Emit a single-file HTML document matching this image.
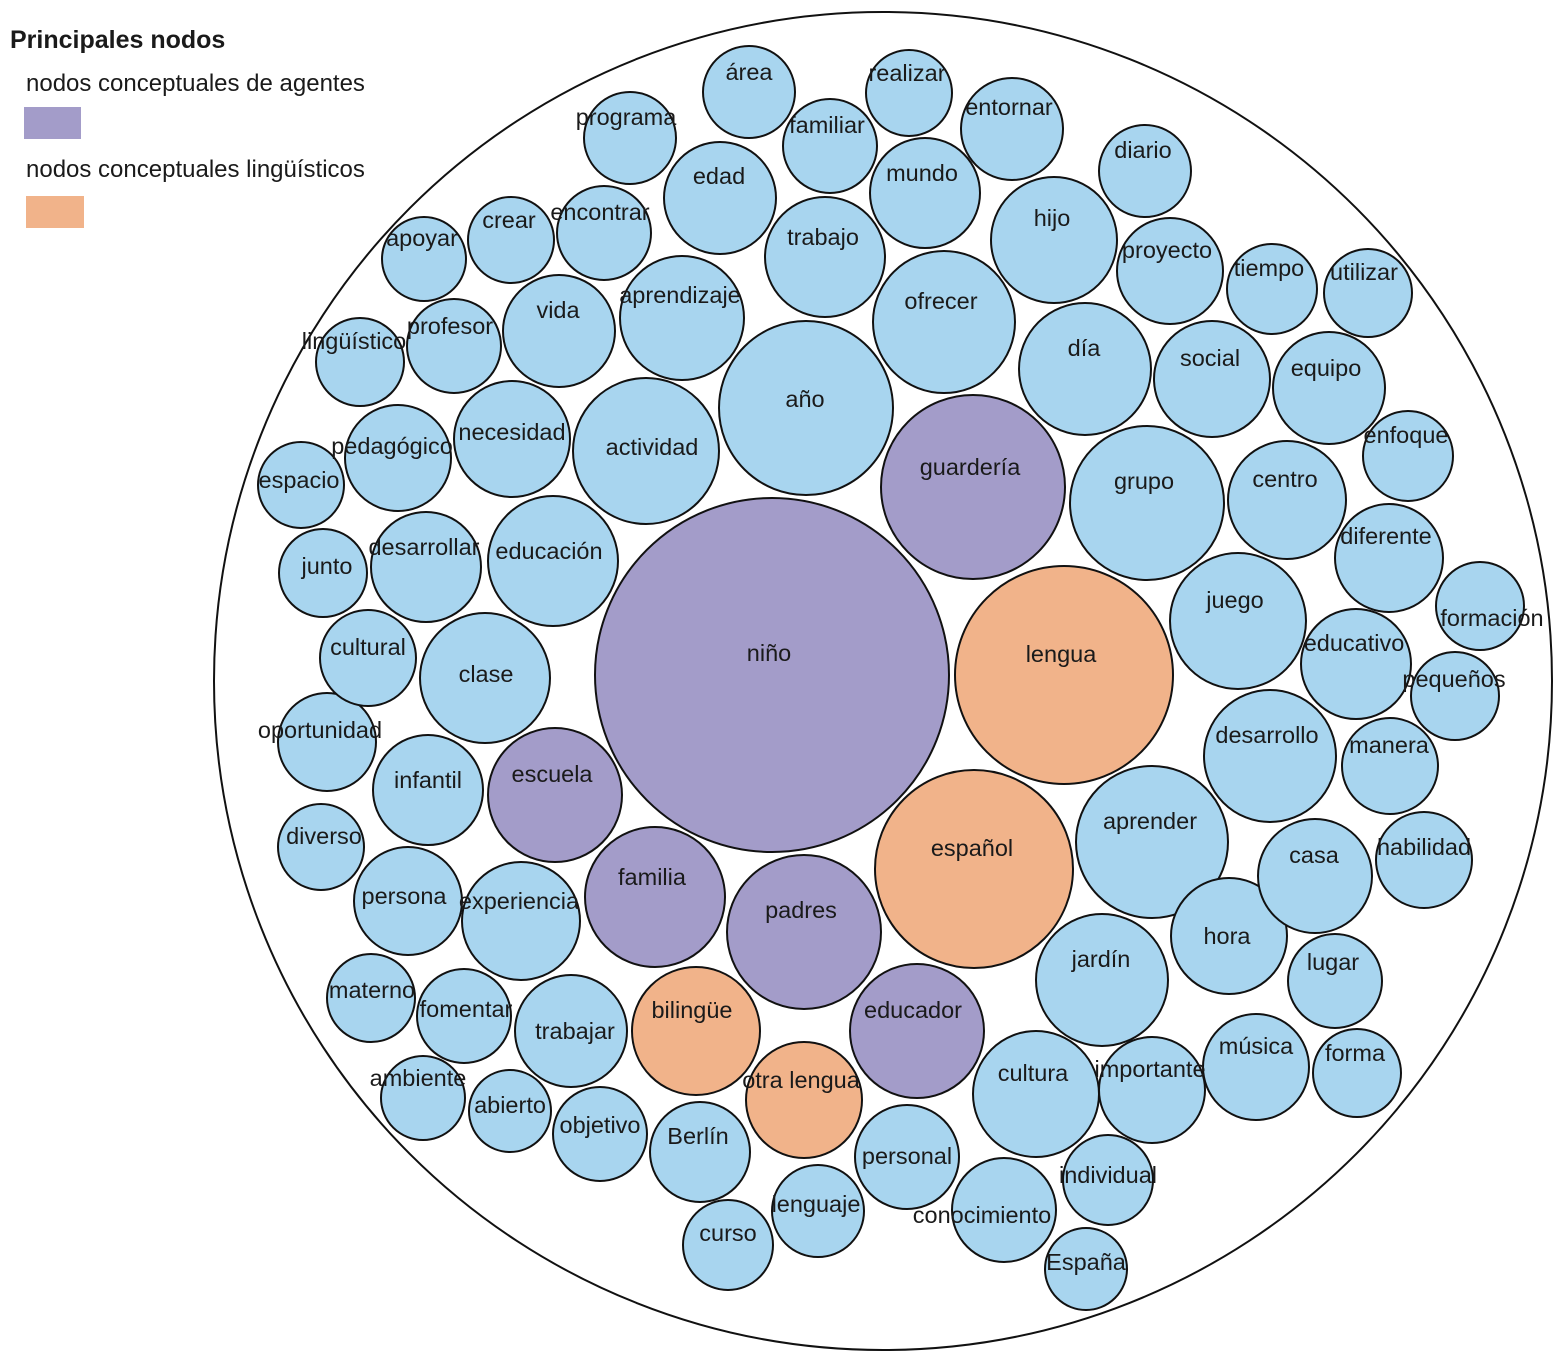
<!DOCTYPE html>
<html><head><meta charset="utf-8"><style>
html,body{margin:0;padding:0;background:#fff;}
svg{display:block;}
text{font-family:"Liberation Sans",Arial,sans-serif;fill:#1a1a1a;}
.l{font-size:23.5px;text-anchor:middle;dominant-baseline:central;}
.b{fill:#a8d5ef;stroke:#111;stroke-width:2;}
.p{fill:#a39cc9;stroke:#111;stroke-width:2;}
.o{fill:#f1b38a;stroke:#111;stroke-width:2;}
</style></head><body>
<svg width="1567" height="1367" viewBox="0 0 1567 1367">
<text x="10" y="48" font-size="25" font-weight="bold">Principales nodos</text>
<text x="26" y="91" font-size="24">nodos conceptuales de agentes</text>
<rect x="24" y="107" width="57" height="32" fill="#a39cc9"/>
<text x="26" y="177" font-size="24">nodos conceptuales lingüísticos</text>
<rect x="26" y="196" width="58" height="32" fill="#f1b38a"/>
<circle cx="883" cy="681" r="669" fill="none" stroke="#111" stroke-width="2"/>
<g>
<circle class="p" cx="772" cy="675" r="177"/>
<circle class="o" cx="1064" cy="675" r="109"/>
<circle class="o" cx="974" cy="869" r="99"/>
<circle class="p" cx="973" cy="487" r="92"/>
<circle class="b" cx="806" cy="408" r="87"/>
<circle class="b" cx="1147" cy="503" r="77"/>
<circle class="b" cx="1152" cy="842" r="76"/>
<circle class="p" cx="804" cy="932" r="77"/>
<circle class="b" cx="646" cy="451" r="73"/>
<circle class="b" cx="944" cy="322" r="71"/>
<circle class="p" cx="655" cy="897" r="70"/>
<circle class="p" cx="555" cy="795" r="67"/>
<circle class="p" cx="917" cy="1031" r="67"/>
<circle class="o" cx="696" cy="1031" r="64"/>
<circle class="o" cx="804" cy="1100" r="58"/>
<circle class="b" cx="1085" cy="369" r="66"/>
<circle class="b" cx="1054" cy="240" r="63"/>
<circle class="b" cx="1212" cy="379" r="58"/>
<circle class="b" cx="1238" cy="621" r="68"/>
<circle class="b" cx="1270" cy="756" r="66"/>
<circle class="b" cx="1287" cy="500" r="59"/>
<circle class="b" cx="1102" cy="980" r="66"/>
<circle class="b" cx="1036" cy="1094" r="63"/>
<circle class="b" cx="1229" cy="936" r="58"/>
<circle class="b" cx="1315" cy="876" r="57"/>
<circle class="b" cx="1256" cy="1067" r="53"/>
<circle class="b" cx="1152" cy="1090" r="53"/>
<circle class="b" cx="825" cy="257" r="60"/>
<circle class="b" cx="720" cy="198" r="56"/>
<circle class="b" cx="925" cy="193" r="55"/>
<circle class="b" cx="682" cy="318" r="62"/>
<circle class="b" cx="559" cy="331" r="56"/>
<circle class="b" cx="553" cy="561" r="65"/>
<circle class="b" cx="485" cy="678" r="65"/>
<circle class="b" cx="512" cy="439" r="58"/>
<circle class="b" cx="521" cy="921" r="59"/>
<circle class="b" cx="571" cy="1031" r="56"/>
<circle class="b" cx="428" cy="790" r="55"/>
<circle class="b" cx="408" cy="901" r="54"/>
<circle class="b" cx="426" cy="567" r="55"/>
<circle class="b" cx="398" cy="458" r="53"/>
<circle class="b" cx="454" cy="346" r="47"/>
<circle class="b" cx="360" cy="362" r="44"/>
<circle class="b" cx="424" cy="259" r="42"/>
<circle class="b" cx="511" cy="240" r="43"/>
<circle class="b" cx="604" cy="233" r="47"/>
<circle class="b" cx="630" cy="138" r="46"/>
<circle class="b" cx="749" cy="92" r="46"/>
<circle class="b" cx="830" cy="146" r="47"/>
<circle class="b" cx="909" cy="93" r="43"/>
<circle class="b" cx="1012" cy="129" r="51"/>
<circle class="b" cx="1145" cy="171" r="46"/>
<circle class="b" cx="1170" cy="271" r="53"/>
<circle class="b" cx="1272" cy="289" r="45"/>
<circle class="b" cx="1368" cy="293" r="44"/>
<circle class="b" cx="1329" cy="388" r="56"/>
<circle class="b" cx="1408" cy="456" r="45"/>
<circle class="b" cx="1389" cy="558" r="54"/>
<circle class="b" cx="1480" cy="606" r="44"/>
<circle class="b" cx="1356" cy="664" r="55"/>
<circle class="b" cx="1455" cy="696" r="44"/>
<circle class="b" cx="1390" cy="766" r="48"/>
<circle class="b" cx="1424" cy="860" r="48"/>
<circle class="b" cx="1335" cy="981" r="47"/>
<circle class="b" cx="1357" cy="1073" r="44"/>
<circle class="b" cx="1108" cy="1180" r="45"/>
<circle class="b" cx="1004" cy="1210" r="52"/>
<circle class="b" cx="1086" cy="1269" r="41"/>
<circle class="b" cx="907" cy="1157" r="52"/>
<circle class="b" cx="818" cy="1211" r="46"/>
<circle class="b" cx="728" cy="1245" r="45"/>
<circle class="b" cx="700" cy="1152" r="50"/>
<circle class="b" cx="600" cy="1134" r="47"/>
<circle class="b" cx="510" cy="1111" r="41"/>
<circle class="b" cx="423" cy="1098" r="42"/>
<circle class="b" cx="464" cy="1016" r="47"/>
<circle class="b" cx="371" cy="998" r="44"/>
<circle class="b" cx="321" cy="847" r="43"/>
<circle class="b" cx="327" cy="742" r="49"/>
<circle class="b" cx="368" cy="658" r="48"/>
<circle class="b" cx="323" cy="573" r="44"/>
<circle class="b" cx="301" cy="485" r="43"/>
</g>
<g>
<text class="l" x="769" y="653">niño</text>
<text class="l" x="1061" y="654">lengua</text>
<text class="l" x="972" y="848">español</text>
<text class="l" x="970" y="467">guardería</text>
<text class="l" x="805" y="399">año</text>
<text class="l" x="1144" y="481">grupo</text>
<text class="l" x="1150" y="821">aprender</text>
<text class="l" x="801" y="910">padres</text>
<text class="l" x="652" y="447">actividad</text>
<text class="l" x="941" y="301">ofrecer</text>
<text class="l" x="652" y="877">familia</text>
<text class="l" x="552" y="774">escuela</text>
<text class="l" x="913" y="1010">educador</text>
<text class="l" x="692" y="1010">bilingüe</text>
<text class="l" x="801" y="1080">otra lengua</text>
<text class="l" x="1084" y="348">día</text>
<text class="l" x="1052" y="218">hijo</text>
<text class="l" x="1210" y="358">social</text>
<text class="l" x="1235" y="600">juego</text>
<text class="l" x="1267" y="735">desarrollo</text>
<text class="l" x="1285" y="479">centro</text>
<text class="l" x="1101" y="959">jardín</text>
<text class="l" x="1033" y="1073">cultura</text>
<text class="l" x="1227" y="936">hora</text>
<text class="l" x="1314" y="855">casa</text>
<text class="l" x="1256" y="1046">música</text>
<text class="l" x="1150" y="1069">importante</text>
<text class="l" x="823" y="237">trabajo</text>
<text class="l" x="719" y="176">edad</text>
<text class="l" x="922" y="173">mundo</text>
<text class="l" x="680" y="295">aprendizaje</text>
<text class="l" x="558" y="310">vida</text>
<text class="l" x="549" y="551">educación</text>
<text class="l" x="486" y="674">clase</text>
<text class="l" x="512" y="432">necesidad</text>
<text class="l" x="519" y="901">experiencia</text>
<text class="l" x="575" y="1031">trabajar</text>
<text class="l" x="428" y="780">infantil</text>
<text class="l" x="404" y="896">persona</text>
<text class="l" x="424" y="547">desarrollar</text>
<text class="l" x="392" y="446">pedagógico</text>
<text class="l" x="450" y="326">profesor</text>
<text class="l" x="354" y="341">lingüístico</text>
<text class="l" x="422" y="238">apoyar</text>
<text class="l" x="509" y="220">crear</text>
<text class="l" x="600" y="212">encontrar</text>
<text class="l" x="626" y="117">programa</text>
<text class="l" x="749" y="72">área</text>
<text class="l" x="827" y="125">familiar</text>
<text class="l" x="907" y="73">realizar</text>
<text class="l" x="1009" y="107">entornar</text>
<text class="l" x="1143" y="150">diario</text>
<text class="l" x="1167" y="250">proyecto</text>
<text class="l" x="1269" y="268">tiempo</text>
<text class="l" x="1364" y="272">utilizar</text>
<text class="l" x="1326" y="368">equipo</text>
<text class="l" x="1406" y="435">enfoque</text>
<text class="l" x="1386" y="536">diferente</text>
<text class="l" x="1492" y="618">formación</text>
<text class="l" x="1354" y="643">educativo</text>
<text class="l" x="1454" y="679">pequeños</text>
<text class="l" x="1389" y="745">manera</text>
<text class="l" x="1424" y="847">habilidad</text>
<text class="l" x="1333" y="962">lugar</text>
<text class="l" x="1355" y="1053">forma</text>
<text class="l" x="1108" y="1175">individual</text>
<text class="l" x="982" y="1215">conocimiento</text>
<text class="l" x="1086" y="1262">España</text>
<text class="l" x="907" y="1156">personal</text>
<text class="l" x="816" y="1204">lenguaje</text>
<text class="l" x="728" y="1233">curso</text>
<text class="l" x="698" y="1136">Berlín</text>
<text class="l" x="600" y="1125">objetivo</text>
<text class="l" x="510" y="1105">abierto</text>
<text class="l" x="418" y="1078">ambiente</text>
<text class="l" x="466" y="1009">fomentar</text>
<text class="l" x="372" y="990">materno</text>
<text class="l" x="324" y="836">diverso</text>
<text class="l" x="320" y="730">oportunidad</text>
<text class="l" x="368" y="647">cultural</text>
<text class="l" x="327" y="566">junto</text>
<text class="l" x="299" y="480">espacio</text>
</g>
</svg>
</body></html>
